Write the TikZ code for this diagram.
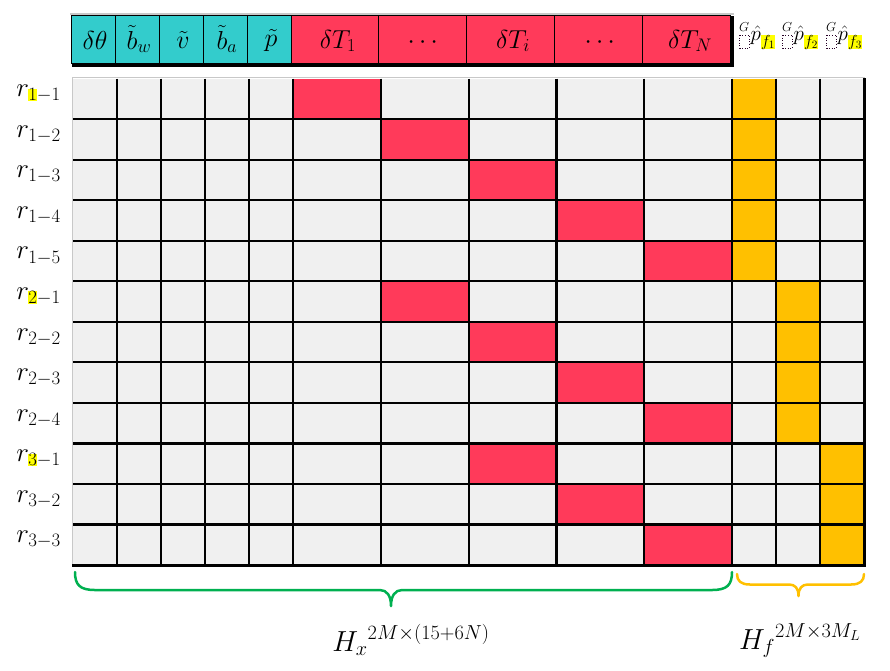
\RequirePackage{fix-cm}
\documentclass[tikz,border=0pt]{standalone}
\usepackage{amsmath}
\definecolor{cyanc}{HTML}{33CCCC}
\definecolor{redc}{HTML}{FF3A5A}
\definecolor{orangec}{HTML}{FFC000}
\definecolor{cellgray}{HTML}{F0F0F0}
\definecolor{edgegray}{HTML}{C8C8C8}
\definecolor{greenc}{HTML}{00B050}
\definecolor{hlyellow}{HTML}{FFFF00}
\newcommand{\yhl}[1]{{\setlength{\fboxsep}{0pt}\colorbox{hlyellow}{$\scriptstyle #1$}}}
\newcommand{\flab}[1]{\makebox[10pt][r]{\raisebox{9pt}{\fontsize{13}{13}\selectfont$G$}}\hspace{1.5pt}$\hat{p}$\raisebox{-6pt}{\setlength{\fboxsep}{0pt}\colorbox{hlyellow}{\fontsize{16}{16}\selectfont$f_{#1}$}}}
\tikzset{
  gridline/.style={black, line width=2.2pt},
  headcell/.style={draw=black, line width=1pt},
  headlabel/.style={font=\fontsize{26}{31}\selectfont, inner sep=0pt},
  rowlabel/.style={font=\fontsize{27}{32}\selectfont, inner sep=0pt, anchor=base east},
  flabel/.style={font=\fontsize{21}{26}\selectfont, inner sep=0pt, anchor=base west},
  dimlabel/.style={font=\fontsize{29}{34}\selectfont, inner sep=0pt, anchor=base},
  brace/.style={line width=2.5pt, line cap=round, line join=round},
  dotbox/.style={draw=black!70!violet, dotted, line width=0.6pt}
}
\begin{document}
\begin{tikzpicture}[x=1pt, y=-1pt]
\useasboundingbox (0,0) rectangle (890,670);
% ---------- header ----------
\draw[edgegray, line width=1.2pt] (70,14) -- (734,14);
\fill[black] (72,62.5) rectangle (733.5,66.5);
\fill[black] (729.5,16) rectangle (733.5,66.5);
\fill[cyanc] (71,15) rectangle (291,63);
\fill[redc] (291,15) rectangle (730,63);
\foreach \xa/\xb in {71/115,115/159,159/203,203/247,247/291,291/378.3,378.3/466,466/554.3,554.3/642.3,642.3/730}
  \draw[headcell] (\xa,15) rectangle (\xb,63);
\node[headlabel] (h1) at (95,40) {$\delta\theta$};
\node[headlabel] (h2) at (139,39) {$\tilde{b}_w$};
\node[headlabel] (h3) at (183,40) {$\tilde{v}$};
\node[headlabel] (h4) at (227,39) {$\tilde{b}_a$};
\node[headlabel] (h5) at (271,40) {$\tilde{p}$};
\node[headlabel] (h6) at (338,41) {$\delta T_1$};
\node[headlabel] (h7) at (425,43) {$\cdots$};
\node[headlabel] (h8) at (513,41) {$\delta T_i$};
\node[headlabel] (h9) at (602,43) {$\cdots$};
\node[headlabel] (h10) at (690,41) {$\delta T_N$};
% f labels
\node[flabel] (f1) at (739,40) {\flab{1}};
\node[flabel] (f2) at (782,40) {\flab{2}};
\node[flabel] (f3) at (826,40) {\flab{3}};
\draw[dotbox] (739.5,35) rectangle (749,48);
\draw[dotbox] (782.5,35) rectangle (792,48);
\draw[dotbox] (826.5,35) rectangle (836,48);
% ---------- grid ----------
\fill[cellgray] (73,78.5) rectangle (864,565.1);
\foreach \r/\xa/\xb in {0/293/380.8,1/380.8/468.6,2/468.6/556.4,3/556.4/644.2,4/644.2/732,
                        5/380.8/468.6,6/468.6/556.4,7/556.4/644.2,8/644.2/732,
                        9/468.6/556.4,10/556.4/644.2,11/644.2/732}
  \fill[redc] (\xa,{78.5+40.55*\r}) rectangle (\xb,{78.5+40.55*(\r+1)});
\foreach \r/\xa/\xb in {0/732/776,1/732/776,2/732/776,3/732/776,4/732/776,
                        5/776/820,6/776/820,7/776/820,8/776/820,
                        9/820/864,10/820/864,11/820/864}
  \fill[orangec] (\xa,{78.5+40.55*\r}) rectangle (\xb,{78.5+40.55*(\r+1)});
\draw[edgegray, line width=1.6pt] (72.5,565) -- (72.5,77.5) -- (865,77.5);
\foreach \x in {117,161,205,249,293,380.8,468.6,556.4,644.2,732,776,820}
  \draw[gridline] (\x,78.5) -- (\x,565.1);
\foreach \r in {1,...,11}
  \draw[gridline] (73,{78.5+40.55*\r}) -- (864,{78.5+40.55*\r});
\draw[black, line width=3pt] (72,565.1) -- (864,565.1) -- (864,78);
% ---------- row labels ----------
\node[rowlabel] (r11) at (61,{78.5+40.55*0.5-2}) {$r_{\yhl{1}-1}$};
\node[rowlabel] (r12) at (61,{78.5+40.55*1.5-2}) {$r_{1-2}$};
\node[rowlabel] (r13) at (61,{78.5+40.55*2.5-2}) {$r_{1-3}$};
\node[rowlabel] (r14) at (61,{78.5+40.55*3.5-2}) {$r_{1-4}$};
\node[rowlabel] (r15) at (61,{78.5+40.55*4.5-2}) {$r_{1-5}$};
\node[rowlabel] (r21) at (61,{78.5+40.55*5.5-2}) {$r_{\yhl{2}-1}$};
\node[rowlabel] (r22) at (61,{78.5+40.55*6.5-2}) {$r_{2-2}$};
\node[rowlabel] (r23) at (61,{78.5+40.55*7.5-2}) {$r_{2-3}$};
\node[rowlabel] (r24) at (61,{78.5+40.55*8.5-2}) {$r_{2-4}$};
\node[rowlabel] (r31) at (61,{78.5+40.55*9.5-2}) {$r_{\yhl{3}-1}$};
\node[rowlabel] (r32) at (61,{78.5+40.55*10.5-2}) {$r_{3-2}$};
\node[rowlabel] (r33) at (61,{78.5+40.55*11.5-2}) {$r_{3-3}$};
% ---------- braces ----------
\draw[brace, greenc] (75,572) .. controls (75,585) and (80,590) .. (95,590) -- (380,590)
  .. controls (387,590) and (391,596) .. (391,606) .. controls (391,596) and (395,590) .. (402,590)
  -- (712,590) .. controls (727,590) and (732,585) .. (732,572);
\draw[brace, orangec] (737,574) .. controls (737,581) and (741,584.5) .. (750,584.5) -- (789,584.5)
  .. controls (795,584.5) and (798.5,588) .. (798.5,596) .. controls (798.5,588) and (802,584.5) .. (808,584.5)
  -- (851,584.5) .. controls (860,584.5) and (864,581) .. (864,574);
% ---------- dimension labels ----------
\node[dimlabel] (hx) at (411,651) {${H_x}^{2M\times(15+6N)}$};
\node[dimlabel] (hf) at (800,649) {${H_f}^{2M\times 3M_L}$};
\end{tikzpicture}
\end{document}
